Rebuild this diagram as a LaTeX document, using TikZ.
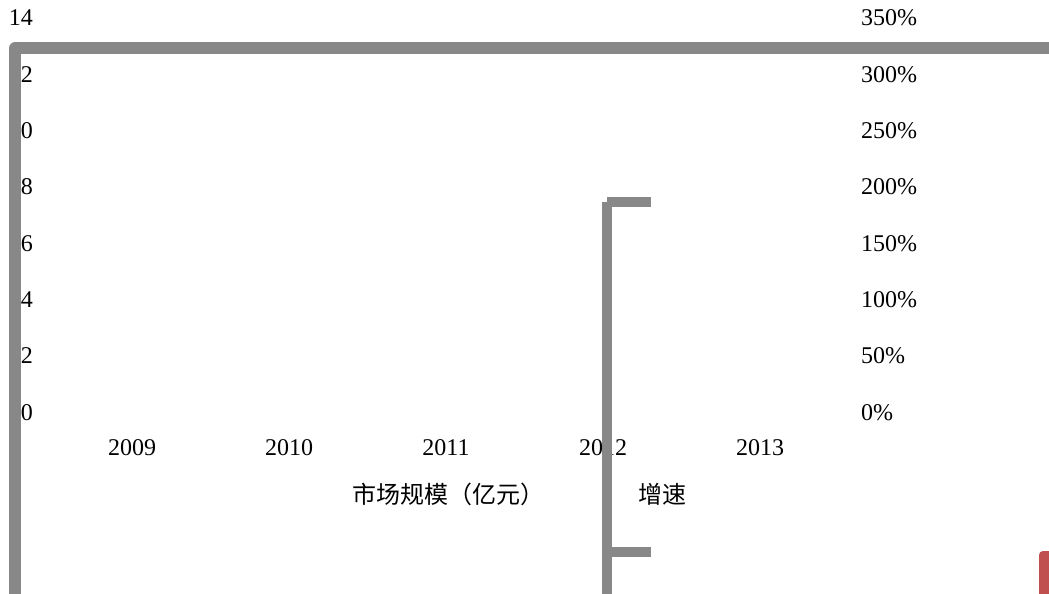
\documentclass[tikz,border=0pt]{standalone}
\usepackage{fontspec}
\setmainfont{Liberation Serif}
\newfontfamily\cjk{Noto Sans CJK SC}
\usetikzlibrary{positioning}
\definecolor{axisgray}{HTML}{888888}
\definecolor{barred}{HTML}{C0504D}
\tikzset{
	lefttick/.style={
		anchor=base east,
		inner sep=0pt,
		font=\fontsize{24}{28}\selectfont
	},
	righttick/.style={
		anchor=base west,
		inner sep=0pt,
		font=\fontsize{24}{28}\selectfont
	},
	yearlabel/.style={
		anchor=base,
		inner sep=0pt,
		font=\fontsize{24}{28}\selectfont
	},
	legendtext/.style={
		inner sep=0pt,
		font=\fontsize{24}{28}\cjk
	},
	greybar/.style={
		draw=axisgray,
		line width=12pt,
		line join=round
	},
	thinbar/.style={
		draw=axisgray,
		line width=10pt
	},
}

\begin{document}
\begin{tikzpicture}[x=1pt,y=-1pt]
\useasboundingbox (0,0) rectangle (1049,594);
% left scale
\foreach \v [count=\i from 0] in {14,12,10,8,6,4,2,0}
	\node[lefttick] (l\i) at (33,26+56.3*\i) {\v};
% right scale
\foreach \v [count=\i from 0] in {350,300,250,200,150,100,50,0}
	\node[righttick] (r\i) at (861,26+56.3*\i) {\v\%};
% years
\foreach \y [count=\i from 0] in {2009,2010,2011,2012,2013}
	\node[yearlabel] (y\i) at (132+157*\i,455) {\y};
% legend
\node[legendtext] (size) at (448,494) {市场规模（亿元）};
\node[legendtext] (rate) at (662,494) {增速};
% frame pieces
\draw[greybar] (15,594) -- (15,48.5) -- (1049,48.5);
\draw[thinbar] (607,202) -- (607,594);
\draw[thinbar] (607,202) -- (651,202);
\draw[thinbar] (607,552) -- (651,552);
\fill[barred] (1039,594) -- (1039,555) arc[start angle=180,end angle=270,radius=4] -- (1049,551) -- (1049,594) -- cycle;
\end{tikzpicture}
\end{document}
